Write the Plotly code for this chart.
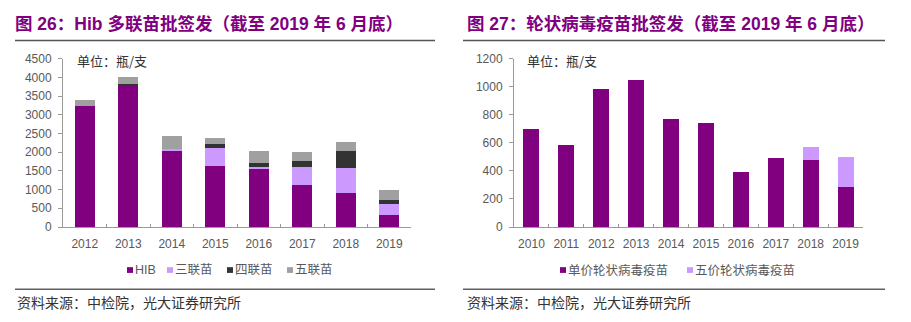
import plotly.graph_objects as go

# Left chart data (Hib multi-vaccines)
years_l = ["2012", "2013", "2014", "2015", "2016", "2017", "2018", "2019"]
hib = [3230, 3760, 2060, 1625, 1570, 1130, 910, 325]
three = [0, 0, 35, 495, 30, 480, 655, 290]
four = [0, 75, 0, 105, 110, 145, 470, 100]
five = [160, 165, 350, 145, 325, 240, 245, 265]

# Right chart data (rotavirus)
years_r = ["2010", "2011", "2012", "2013", "2014", "2015", "2016", "2017", "2018", "2019"]
mono = [700, 582, 987, 1047, 767, 740, 392, 492, 476, 284]
penta = [0, 0, 0, 0, 0, 0, 0, 0, 94, 217]

W, H = 911, 322
PURPLE = "#800080"
LAV = "#CC99FF"
DARK = "#333333"
GRAY = "#A0A0A0"
TICK = "#595959"
AX = "#9A9A9A"
FONT = "Liberation Sans, Arial, Noto Sans CJK SC"
CJK = "Noto Sans CJK SC"

def px(x):
    return x / W

def py(y):
    return 1 - y / H

fig = go.Figure()
left_series = [("HIB", hib, PURPLE), ("三联苗", three, LAV), ("四联苗", four, DARK), ("五联苗", five, GRAY)]
right_series = [("单价轮状病毒疫苗", mono, PURPLE), ("五价轮状病毒疫苗", penta, LAV)]
for name, vals, col in left_series:
    fig.add_bar(x=years_l, y=vals, name=name, marker=dict(color=col, line=dict(width=0)),
                xaxis="x", yaxis="y", showlegend=False)
for name, vals, col in right_series:
    fig.add_bar(x=years_r, y=vals, name=name, marker=dict(color=col, line=dict(width=0)),
                xaxis="x2", yaxis="y2", showlegend=False)

ydom = [py(230), py(54)]
common_x = dict(type="category", showline=True, linecolor=AX, linewidth=1, ticks="inside",
                tickson="boundaries", ticklen=3, tickcolor=AX, showgrid=False, tickangle=0,
                ticklabelstandoff=6,
                tickfont=dict(family=FONT, size=12, color=TICK), zeroline=False, fixedrange=True)
common_y = dict(showline=True, linecolor=AX, linewidth=1, ticks="outside", ticklen=4, tickcolor=AX,
                showgrid=False, zeroline=False, ticklabelstandoff=4,
                tickfont=dict(family=FONT, size=12, color=TICK))

fig.update_layout(
    width=W, height=H, margin=dict(l=0, r=0, t=0, b=0),
    paper_bgcolor="white", plot_bgcolor="white",
    barmode="stack", bargap=0.54,
    xaxis=dict(domain=[px(63), px(411)], anchor="y", **common_x),
    yaxis=dict(domain=ydom, anchor="x", range=[0, 4500], dtick=500, **common_y),
    xaxis2=dict(domain=[px(514), px(863)], anchor="y2", **common_x),
    yaxis2=dict(domain=ydom, anchor="x2", range=[0, 1200], dtick=200, **common_y),
)

# Titles
for text, x0 in (("图 26：Hib 多联苗批签发（截至 2019 年 6 月底）", 13),
                 ("图 27：轮状病毒疫苗批签发（截至 2019 年 6 月底）", 465)):
    fig.add_annotation(text="<b>" + text + "</b>", x=px(x0), y=py(18), xref="paper", yref="paper",
                       xanchor="left", yanchor="middle", showarrow=False,
                       font=dict(family="Liberation Sans, Noto Sans CJK SC", size=17.5, color=PURPLE))

for x0 in (75, 525):
    fig.add_annotation(text="单位：瓶/支", x=px(x0), y=py(56), xref="paper", yref="paper",
                       xanchor="left", yanchor="middle", showarrow=False,
                       font=dict(family=CJK, size=13, color="#333333"))

for x0 in (15, 465):
    fig.add_annotation(text="资料来源：中检院，光大证券研究所", x=px(x0), y=py(308), xref="paper", yref="paper",
                       xanchor="left", yanchor="middle", showarrow=False,
                       font=dict(family=CJK, size=14, color="#333333"))

shapes = []
for (a, b) in ((15, 435), (463, 885)):
    shapes.append(dict(type="line", xref="paper", yref="paper", x0=px(a), x1=px(b), y0=py(35), y1=py(35),
                       line=dict(color="#555555", width=1.5)))
    shapes.append(dict(type="line", xref="paper", yref="paper", x0=px(a), x1=px(b), y0=py(295), y1=py(295),
                       line=dict(color="#111111", width=1)))

# Legends (small square + label)
leg_y = 275
left_leg_x = [127, 167, 227, 287]
right_leg_x = [560, 687]
for (name, _, col), lx in list(zip(left_series, left_leg_x)) + list(zip(right_series, right_leg_x)):
    shapes.append(dict(type="rect", xref="paper", yref="paper", x0=px(lx), x1=px(lx + 6),
                       y0=py(leg_y + 3), y1=py(leg_y - 3), fillcolor=col, line=dict(width=0)))
    fig.add_annotation(text=name, x=px(lx + 6), y=py(leg_y), xref="paper", yref="paper",
                       xanchor="left", yanchor="middle", showarrow=False,
                       font=dict(family=FONT, size=12.5, color=TICK))
fig.update_layout(shapes=shapes)

fig.write_html("out.html")
